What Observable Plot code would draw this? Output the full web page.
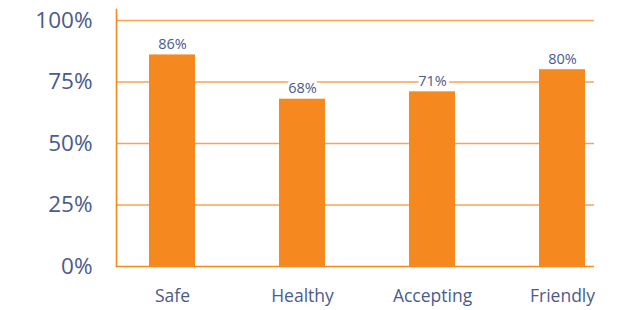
<!DOCTYPE html>
<html>
<head>
<meta charset="utf-8">
<script src="https://cdn.jsdelivr.net/npm/d3@7"></script>
<script src="https://cdn.jsdelivr.net/npm/@observablehq/plot@0.6"></script>
<style>
  html, body { margin: 0; padding: 0; background: #fff; }
  #chart { width: 625px; height: 310px; }
</style>
</head>
<body>
<div id="chart"></div>
<script>
const categories = ["Safe", "Healthy", "Accepting", "Friendly"];
const values = [86, 68, 71, 80];
const yTicks = [0, 25, 50, 75, 100];
const gridTicks = [25, 50, 75, 100];

const data = categories.map((c, i) => ({category: c, value: values[i]}));

const textColor = "#4a5b8d";
const barColor = "#f5891f";
const gridColor = "#f8a457";
const font = "'Open Sans', 'Noto Sans', sans-serif";

const chart = Plot.plot({
  width: 625,
  height: 310,
  marginTop: 9,
  marginLeft: 116,
  marginRight: 31,
  marginBottom: 44,
  style: {fontFamily: font, background: "#fff"},
  x: {domain: categories, range: [106, 628], paddingInner: 0.646, paddingOuter: 0.323, axis: null},
  y: {domain: [0, 104.47], axis: null},
  marks: [
    Plot.ruleY(gridTicks, {stroke: gridColor, strokeWidth: 1.6}),
    Plot.barY(data, {x: "category", y: "value", fill: barColor}),
    Plot.ruleY([0], {stroke: barColor, strokeWidth: 1.6}),
    Plot.frame({anchor: "left", stroke: barColor, strokeWidth: 1.6}),
    Plot.text(data, {x: "category", y: "value", text: d => d.value + "%", lineAnchor: "bottom", dy: -6,
      fill: textColor, fontSize: 14.5, stroke: "white", strokeWidth: 6, paintOrder: "stroke"}),
    Plot.axisY(yTicks, {tickSize: 0, tickPadding: 24, tickFormat: d => d + "%", fontSize: 22.5, color: textColor, label: null}),
    Plot.axisX({tickSize: 0, tickPadding: 23, fontSize: 17.5, color: textColor, label: null})
  ]
});
document.getElementById("chart").appendChild(chart);
</script>
</body>
</html>
